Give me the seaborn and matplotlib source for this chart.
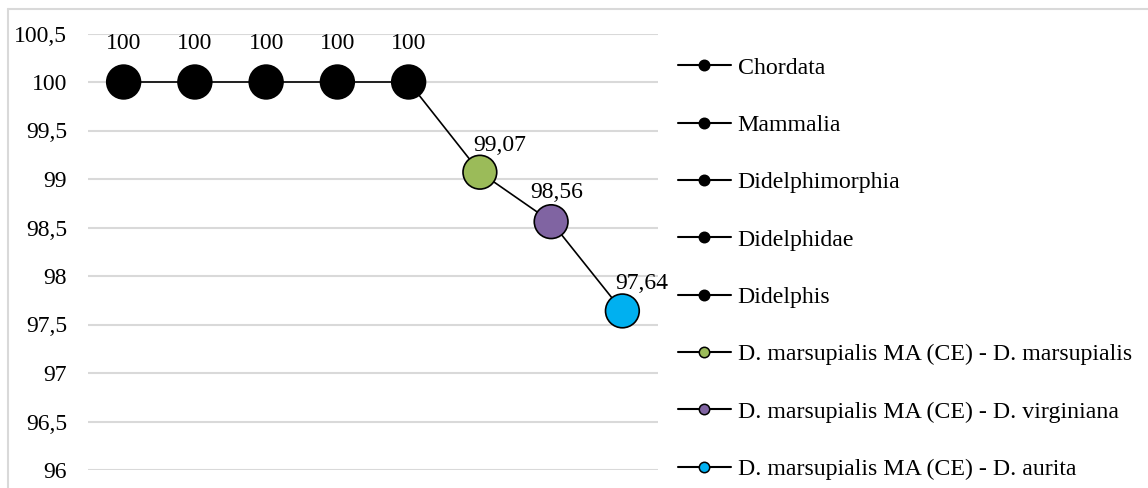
import numpy as np
import pandas as pd
import matplotlib.pyplot as plt
import seaborn as sns
from matplotlib.lines import Line2D

#%% data
categories = ["Chordata", "Mammalia", "Didelphimorphia", "Didelphidae", "Didelphis",
              "D. marsupialis MA (CE) - D. marsupialis",
              "D. marsupialis MA (CE) - D. virginiana",
              "D. marsupialis MA (CE) - D. aurita"]
values = [100, 100, 100, 100, 100, 99.07, 98.56, 97.64]
value_labels = ["100", "100", "100", "100", "100", "99,07", "98,56", "97,64"]
colors = ["#000000", "#000000", "#000000", "#000000", "#000000",
          "#9BBB59", "#8064A2", "#00B0F0"]
yticks = [96, 96.5, 97, 97.5, 98, 98.5, 99, 99.5, 100, 100.5]
ytick_labels = ["96", "96,5", "97", "97,5", "98", "98,5", "99", "99,5", "100", "100,5"]

df = pd.DataFrame({"category": categories, "value": values,
                   "pos": np.arange(len(categories))})
palette = dict(zip(categories, colors))

#%% style
sns.set_style("white")
plt.rcParams["font.family"] = ["Liberation Serif", "DejaVu Serif"]
plt.rcParams["text.color"] = "black"
plt.rcParams["ytick.color"] = "black"

fig = plt.figure(figsize=(11.48, 4.88), dpi=100)
ax = fig.add_axes([88 / 1148, 1 - 470 / 488, 570 / 1148, (470 - 33.5) / 488])

sns.lineplot(data=df, x="pos", y="value", color="black", lw=1.2, ax=ax, zorder=2)
sns.scatterplot(data=df, x="pos", y="value", hue="category", palette=palette,
                s=590, edgecolor="black", linewidth=1.2, legend=False, ax=ax, zorder=3)

# data labels (offsets in points)
offsets = [(0, 28), (0, 28), (0, 28), (0, 28), (0, 28), (14, 19), (4, 21), (14, 20)]
for i, (lab, off) in enumerate(zip(value_labels, offsets)):
    ax.annotate(lab, (i, values[i]), xytext=off, textcoords="offset points",
                ha="center", va="center", fontsize=17)

ax.set_xlim(-0.5, len(categories) - 0.5)
ax.set_ylim(96, 100.5)
ax.set_yticks(yticks)
ax.set_yticklabels(ytick_labels, fontsize=17)
ax.set_xticks([])
ax.set_xlabel("")
ax.set_ylabel("")
ax.tick_params(axis="y", length=0, pad=15)
ax.grid(axis="y", color="#d9d9d9", lw=1.5)
ax.set_axisbelow(True)
for s in ax.spines.values():
    s.set_visible(False)

# legend
handles = [Line2D([0], [0], color="black", lw=1.5, marker="o", markersize=7.5,
                  markerfacecolor=c, markeredgecolor="black", markeredgewidth=1.1)
           for c in colors]
fig.legend(handles, categories, loc="upper left",
           bbox_to_anchor=(678 / 1148, 1 - 57 / 488), frameon=False,
           fontsize=17.2, handlelength=2.2, handletextpad=0.3,
           labelspacing=1.49, borderaxespad=0, borderpad=0)

# outer chart border (cropped at right/bottom)
fig.add_artist(Line2D([8 / 1148, 1], [1 - 9 / 488, 1 - 9 / 488],
                      color="#d9d9d9", lw=1.5, transform=fig.transFigure))
fig.add_artist(Line2D([8 / 1148, 8 / 1148], [0, 1 - 9 / 488],
                      color="#d9d9d9", lw=1.5, transform=fig.transFigure))

fig.savefig("out.png", dpi=100)
